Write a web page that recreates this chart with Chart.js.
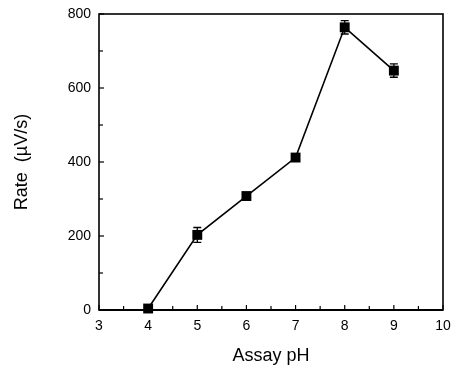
<!DOCTYPE html>
<html>
<head>
<meta charset="utf-8">
<script src="https://cdn.jsdelivr.net/npm/chart.js@4.4.0/dist/chart.umd.min.js"></script>
<style>
  html, body { margin: 0; padding: 0; background: #fff; }
  #conteneur { width: 452px; height: 373px; }
</style>
</head>
<body>
<div id="conteneur"><canvas id="myChartPh"></canvas></div>
<script>
//? Données.

const valeursPh = [4, 5, 6, 7, 8, 9];
const valeursRate = [4, 203, 308, 412, 764, 647];
const erreursRate = [0, 20, 0, 0, 18, 18];

const titreAxeX = "Assay pH";
const titreAxeY = "Rate  (\u00b5V/s)";

//? -------------------------------------------------

//? Cadre, graduations vers l'intérieur et barres d'erreur.

const cadreEtGraduations = {
  id: "cadreEtGraduations",
  afterDatasetsDraw(chart) {
    const { ctx, chartArea, scales } = chart;
    const { left, right, top, bottom } = chartArea;
    ctx.save();
    ctx.strokeStyle = "#000";

    // graduations x
    ctx.lineWidth = 1.2;
    scales.x.ticks.forEach((t) => {
      const px = scales.x.getPixelForValue(t.value);
      const long = Number.isInteger(t.value) ? 5 : 4;
      ctx.beginPath();
      ctx.moveTo(px, bottom);
      ctx.lineTo(px, bottom - long);
      ctx.stroke();
    });

    // graduations y
    scales.y.ticks.forEach((t) => {
      const py = scales.y.getPixelForValue(t.value);
      const long = t.value % 200 === 0 ? 5 : 4;
      ctx.beginPath();
      ctx.moveTo(left, py);
      ctx.lineTo(left + long, py);
      ctx.stroke();
    });

    // cadre
    ctx.lineWidth = 1.6;
    ctx.strokeRect(left, top, right - left, bottom - top);
    ctx.lineWidth = 2;
    ctx.beginPath();
    ctx.moveTo(left, bottom);
    ctx.lineTo(right, bottom);
    ctx.stroke();

    // barres d'erreur
    ctx.lineWidth = 1.3;
    valeursPh.forEach((ph, i) => {
      if (!erreursRate[i]) return;
      const px = scales.x.getPixelForValue(ph);
      const yHaut = scales.y.getPixelForValue(valeursRate[i] + erreursRate[i]);
      const yBas = scales.y.getPixelForValue(valeursRate[i] - erreursRate[i]);
      ctx.beginPath();
      ctx.moveTo(px, yHaut);
      ctx.lineTo(px, yBas);
      ctx.moveTo(px - 4, yHaut);
      ctx.lineTo(px + 4, yHaut);
      ctx.moveTo(px - 4, yBas);
      ctx.lineTo(px + 4, yBas);
      ctx.stroke();
    });
    ctx.restore();
  },
};

//? -------------------------------------------------

//? Construction du graphique.

const constructionDuGraphiquePh = () => {
  const ctxPh = document.getElementById("myChartPh").getContext("2d");

  const data = {
    datasets: [
      {
        label: "Rate",
        data: valeursPh.map((ph, i) => ({ x: ph, y: valeursRate[i] })),
        borderColor: "#000",
        backgroundColor: "#000",
        borderWidth: 1.6,
        tension: 0,
        pointStyle: "rect",
        pointRadius: 7,
        pointBorderWidth: 0,
        clip: false,
      },
    ],
  };

  const policeTicks = { family: "'Liberation Sans', Arial, sans-serif", size: 14 };
  const policeTitres = { family: "'Liberation Sans', Arial, sans-serif", size: 18 };

  const optionsPh = {
    responsive: true,
    maintainAspectRatio: false,
    animation: { duration: 0 },
    layout: { padding: { top: 14, right: 9, left: 0, bottom: 0 } },
    plugins: {
      legend: { display: false },
      tooltip: { enabled: false },
    },
    scales: {
      x: {
        type: "linear",
        min: 3,
        max: 10,
        grid: { display: false, drawTicks: false },
        border: { display: false },
        ticks: {
          stepSize: 0.5,
          autoSkip: false,
          maxRotation: 0,
          color: "#000",
          font: policeTicks,
          padding: 8,
          callback: (v) => (Number.isInteger(v) ? v : ""),
        },
        title: {
          display: true,
          text: titreAxeX,
          color: "#000",
          font: policeTitres,
          padding: { top: 0, bottom: 6 },
        },
        afterFit: (s) => {
          s.height = 63;
          s.paddingLeft = 0;
          s.paddingRight = 0;
        },
      },
      y: {
        min: 0,
        max: 800,
        grid: { display: false, drawTicks: false },
        border: { display: false },
        ticks: {
          stepSize: 100,
          autoSkip: false,
          color: "#000",
          font: policeTicks,
          padding: 8,
          callback: (v) => (v % 200 === 0 ? v : ""),
        },
        title: {
          display: true,
          text: titreAxeY,
          color: "#000",
          font: policeTitres,
          padding: { top: 11, bottom: 0 },
        },
        afterFit: (s) => {
          s.width = 99;
          s.paddingTop = 0;
          s.paddingBottom = 0;
        },
      },
    },
  };

  new Chart(ctxPh, {
    type: "line",
    data,
    options: optionsPh,
    plugins: [cadreEtGraduations],
  });
};

constructionDuGraphiquePh();
</script>
</body>
</html>
